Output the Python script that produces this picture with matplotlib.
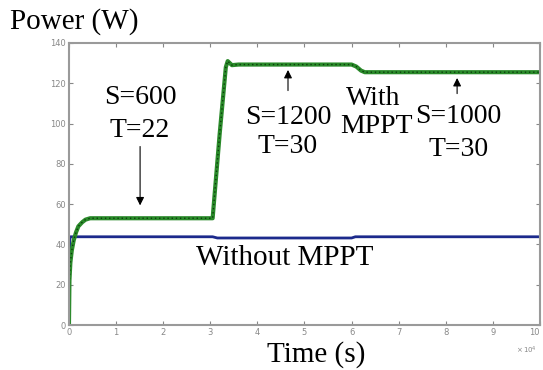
import matplotlib
matplotlib.use('Agg')
from matplotlib import pyplot as plt

# Time in units of 1e4 samples, power in W
mppt_t = [0, 0.01, 0.03, 0.06, 0.1, 0.15, 0.2, 0.28, 0.35, 0.45, 0.6,
          3.05, 3.2, 3.33, 3.37, 3.46, 3.6, 6.0, 6.1, 6.2, 6.28, 10]
mppt_p = [0, 22, 31, 37, 42, 46, 49, 51, 52.3, 53, 53,
          53, 95, 128, 131, 129, 129.3, 129.3, 128.3, 126.3, 125.5, 125.5]

fixed_t = [0, 0.015, 0.03, 3.05, 3.15, 6.0, 6.08, 10]
fixed_p = [0, 42, 43.8, 43.8, 43.2, 43.2, 43.8, 43.8]

X_TICKS = list(range(0, 11))
Y_TICKS = list(range(0, 141, 20))

SERIF = 'Liberation Serif'
FS = 21
TXT = dict(family=SERIF, fontsize=20, ha='center', va='center')

fig = plt.figure(figsize=(5.43, 3.70), dpi=100)
ax = fig.add_axes([0.127, 0.1216, 0.8675, 0.7622])

# without MPPT
ax.plot(fixed_t, fixed_p, color='#1c2a8c', lw=2.0)
# with MPPT: green trace with darker dotted core
ax.plot(mppt_t, mppt_p, color='#2a8a2a', lw=3.0)
ax.plot(mppt_t, mppt_p, color='#0c3d0c', lw=1.0, ls=(0, (1, 2)))

ax.set_xlim(0, 10)
ax.set_ylim(0, 140)
ax.set_xticks(X_TICKS)
ax.set_yticks(Y_TICKS)
ax.tick_params(direction='in', length=3, labelsize=6, colors='#888888',
               top=True, right=True, pad=2)
# keep the last x label inside the picture
ax.get_xticklabels()[-1].set_horizontalalignment('right')
for sp in ax.spines.values():
    sp.set_color('#9a9a9a')
    sp.set_linewidth(1.5)

# annotations
ax.text(1.51, 112.7, 'S=600', **TXT)
ax.text(1.51, 96.8, 'T=22', **TXT)
ax.annotate('', xy=(1.51, 58.0), xytext=(1.51, 90.0),
            arrowprops=dict(arrowstyle='-|>', color='black', lw=0.8, mutation_scale=12))

ax.text(4.65, 102.8, 'S=1200', **TXT)
ax.text(4.65, 88.4, 'T=30', **TXT)
ax.annotate('', xy=(4.65, 128.0), xytext=(4.65, 115.0),
            arrowprops=dict(arrowstyle='-|>', color='black', lw=0.8, mutation_scale=12))

ax.text(6.45, 112.2, 'With', **TXT)
ax.text(6.52, 98.3, 'MPPT', **TXT)

ax.text(8.27, 103.3, 'S=1000', **TXT)
ax.text(8.27, 86.9, 'T=30', **TXT)
ax.annotate('', xy=(8.24, 124.0), xytext=(8.24, 113.5),
            arrowprops=dict(arrowstyle='-|>', color='black', lw=0.8, mutation_scale=12))

ax.text(4.59, 33.3, 'Without MPPT', family=SERIF, fontsize=FS, ha='center', va='center')

fig.text(10 / 543, 1 - 22 / 370, 'Power (W)', family=SERIF, fontsize=FS,
         ha='left', va='center')
fig.text(316 / 543, 1 - 355 / 370, 'Time (s)', family=SERIF, fontsize=FS,
         ha='center', va='center')
fig.text(526 / 543, 1 - 350 / 370, r'$\times\,10^4$', fontsize=5, color='#888888',
         ha='center', va='center')

fig.savefig('out.png', dpi=100)
